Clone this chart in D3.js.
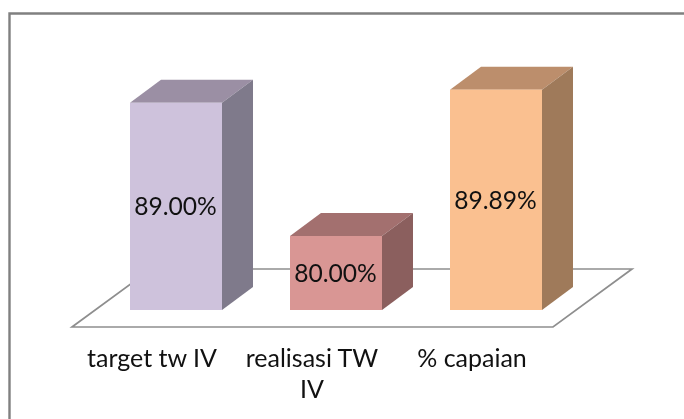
<!DOCTYPE html>
<html>
<head>
<meta charset="utf-8">
<script src="https://cdn.jsdelivr.net/npm/d3@7"></script>
<style>
  html, body { margin: 0; padding: 0; background: #fff; }
  svg { display: block; filter: blur(0.45px); }
  text { font-family: Lato, sans-serif; fill: #111; }
</style>
</head>
<body>
<div id="chart"></div>
<script>
const categories = ["target tw IV", "realisasi TW IV", "% capaian"]
const values = [89.00, 80.00, 89.89]
const frontColors = ["#cec2dc", "#d99694", "#fac090"]
const topColors = ["#9b8fa4", "#a3706f", "#bc8e6c"]
const sideColors = ["#7f7a8b", "#8b5f5e", "#9f7a5a"]

const width = 684, height = 419
const floorY = 327
// oblique offsets of the fake 3d box
const floorDx = 79, floorDy = -58
const barDx = 31, barDy = -23
const shiftX = 24, shiftY = -17

let svg = d3.select("#chart").append("svg")
  .attr("width", width)
  .attr("height", height)

let x = d3.scaleBand()
  .domain(categories)
  .range([72, 552])
  .paddingInner(0.425)
  .paddingOuter(0.2125)

let y = d3.scaleLinear()
  .domain([75, 90])
  .range([floorY + shiftY, floorY + shiftY - 222])

let data = categories.map((c, i) => ({name: c, value: values[i], i: i}))

// outer frame, only top and left show in the picture
svg.append("path")
  .attr("d", `M9.5,${height}V13.5H${width}`)
  .attr("fill", "none")
  .attr("stroke", "#808080")
  .attr("stroke-width", 2.4)

// floor
let x0 = x.range()[0], x1 = x.range()[1] + 1
svg.append("path")
  .attr("d", `M${x0},${floorY}L${x1},${floorY}L${x1 + floorDx},${floorY + floorDy}L${x0 + floorDx},${floorY + floorDy}Z`)
  .attr("fill", "#fff")
  .attr("stroke", "#8e8e8e")
  .attr("stroke-width", 1.7)

let bars = svg.append("g").selectAll("g")
  .data(data)
  .enter().append("g")

const left = d => x(d.name) + shiftX
const right = d => left(d) + x.bandwidth()
const bottom = floorY + shiftY

bars.append("path")
  .attr("fill", d => topColors[d.i])
  .attr("d", d => `M${left(d)},${y(d.value)}L${left(d) + barDx},${y(d.value) + barDy}L${right(d) + barDx},${y(d.value) + barDy}L${right(d)},${y(d.value)}Z`)

bars.append("path")
  .attr("fill", d => sideColors[d.i])
  .attr("d", d => `M${right(d)},${y(d.value)}L${right(d) + barDx},${y(d.value) + barDy}L${right(d) + barDx},${bottom + barDy}L${right(d)},${bottom}Z`)

bars.append("rect")
  .attr("fill", d => frontColors[d.i])
  .attr("x", left)
  .attr("y", d => y(d.value))
  .attr("width", x.bandwidth())
  .attr("height", d => bottom - y(d.value))

bars.append("text")
  .attr("x", d => left(d) + x.bandwidth() / 2 - 0.5)
  .attr("y", d => (y(d.value) + bottom) / 2 + 9)
  .attr("text-anchor", "middle")
  .style("font-size", "24.6px")
  .text(d => d.value.toFixed(2) + "%")

// category labels
let axis = svg.append("g")
  .attr("transform", `translate(0,${floorY + 20})`)
  .call(d3.axisBottom(x).tickSize(0).tickPadding(0))

axis.select(".domain").remove()
axis.selectAll("text")
  .style("font-size", "25px")
  .style("font-family", "Lato, sans-serif")
  .call(wrap, 150)

function wrap(labels, maxWidth) {
  labels.each(function() {
    let label = d3.select(this)
    let words = label.text().split(" ")
    label.text(null).attr("y", 0).attr("dy", null)
    let line = []
    let tspan = label.append("tspan").attr("x", 0).attr("y", 20)
    let row = 0
    words.forEach(w => {
      line.push(w)
      tspan.text(line.join(" "))
      if (tspan.node().getComputedTextLength() > maxWidth && line.length > 1) {
        line.pop()
        tspan.text(line.join(" "))
        line = [w]
        row++
        tspan = label.append("tspan").attr("x", 0).attr("y", 20 + row * 31).text(w)
      }
    })
  })
}
</script>
</body>
</html>
